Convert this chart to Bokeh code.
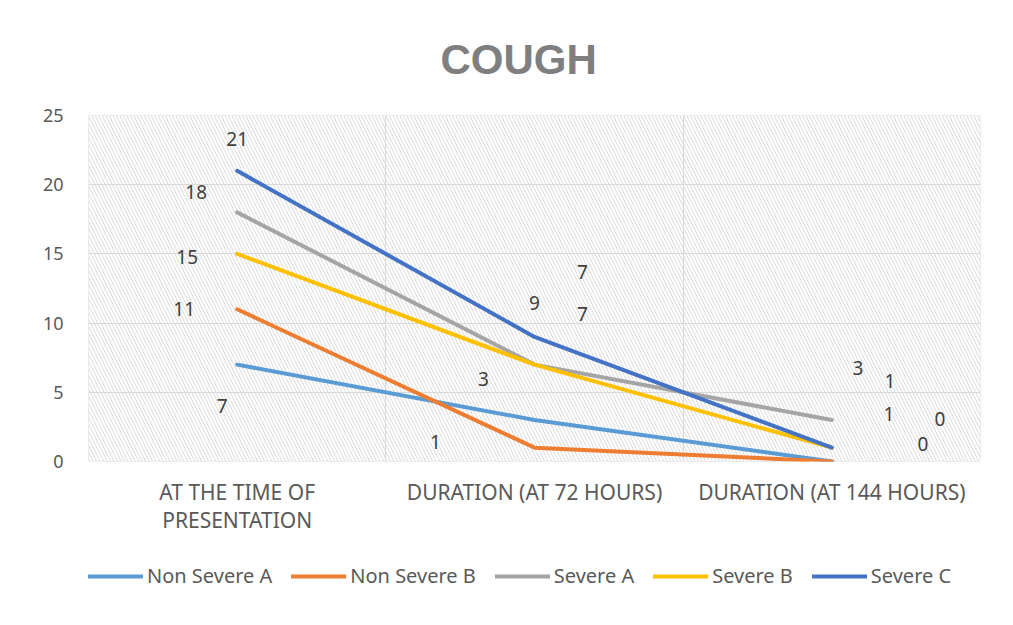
from bokeh.plotting import figure
from bokeh.models import Range1d, FixedTicker, Legend, LegendItem, LinearAxis
from bokeh.layouts import column
from bokeh.core.properties import value
from bokeh.embed import file_html
from bokeh.resources import INLINE

# ---- data ----
categories = ["AT THE TIME OF\nPRESENTATION", "DURATION (AT 72 HOURS)", "DURATION (AT 144 HOURS)"]
series_names = ["Non Severe A", "Non Severe B", "Severe A", "Severe B", "Severe C"]
non_severe_a = [7, 3, 0]
non_severe_b = [11, 1, 0]
severe_a = [18, 7, 3]
severe_b = [15, 7, 1]
severe_c = [21, 9, 1]
y_ticks = [0, 5, 10, 15, 20, 25]

# ---- styles ----
colors = ["#5B9BD5", "#ED7D31", "#A5A5A5", "#FFC000", "#4472C4"]
# data label pixel offsets (dx, dy) per series per point (screen px, y down)
label_offsets = [
    [(-15, 41), (-51, -41), (91, -18)],
    [(-53, 0), (-99, -6), (108, -43)],
    [(-41, -20), (48, -51), (26, -52)],
    [(-50, 3), (48, -93), (58, -67)],
    [(0, -32), (0, -34), (57, -34)],
]

all_series = [non_severe_a, non_severe_b, severe_a, severe_b, severe_c]
xs = [i + 0.5 for i in range(len(categories))]
line1 = [c.split("\n")[0] for c in categories]
line2 = [c.split("\n")[1] if "\n" in c else "" for c in categories]

p = figure(frame_width=892, frame_height=346, output_backend="svg", toolbar_location=None,
           x_range=Range1d(0, len(categories)), y_range=Range1d(y_ticks[0], y_ticks[-1]),
           x_axis_location=None,
           min_border_left=88, min_border_right=25, min_border_top=115, min_border_bottom=80,
           background_fill_color="white", border_fill_color="white", outline_line_color=None)

p.title.text = "COUGH"
p.title.text_font = "Liberation Sans"
p.title.text_font_size = "42px"
p.title.text_font_style = "bold"
p.title.text_color = "#7f7f7f"
p.title.align = "left"
p.title.offset = 352
p.title.standoff = 65

# hatched plot area
p.quad(left=[0], right=[len(categories)], bottom=[y_ticks[0]], top=[y_ticks[-1]],
       fill_color=None, line_color="#d9d9d9", line_width=1,
       hatch_pattern="\\", hatch_color="#d9d9d9", hatch_scale=7, hatch_weight=1)

renderers = []
for name, vals, c in zip(series_names, all_series, colors):
    r = p.line(xs, vals, line_color=c, line_width=4, line_cap="round", line_join="round")
    renderers.append(r)

for vals, offs in zip(all_series, label_offsets):
    for x, v, (dx, dy) in zip(xs, vals, offs):
        p.text([x], [v], text=[str(v)], x_offset=dx, y_offset=dy,
               text_align="center", text_baseline="middle",
               text_font_size="19px", text_color="#404040", text_font=value("Noto Sans"))

ax1 = LinearAxis(ticker=FixedTicker(ticks=xs),
                 major_label_overrides={x: t for x, t in zip(xs, line1)})
ax2 = LinearAxis(ticker=FixedTicker(ticks=xs),
                 major_label_overrides={x: (t if t else " ") for x, t in zip(xs, line2)})
p.add_layout(ax1, "below")
p.add_layout(ax2, "below")
p.yaxis.ticker = FixedTicker(ticks=y_ticks)
for ax in (ax1, ax2, p.yaxis[0]):
    ax.axis_line_color = None
    ax.major_tick_line_color = None
    ax.minor_tick_line_color = None
    ax.major_tick_in = 0
    ax.major_tick_out = 0
    ax.major_label_text_font = "Noto Sans"
    ax.major_label_text_font_size = "21px"
    ax.major_label_text_color = "#595959"
p.yaxis.major_label_text_font_size = "18px"
p.yaxis.major_label_standoff = 25
ax1.major_label_standoff = 16
ax2.major_label_standoff = -3

p.xgrid.ticker = FixedTicker(ticks=list(range(len(categories) + 1)))
p.xgrid.grid_line_color = "#d9d9d9"
p.ygrid.grid_line_color = "#d9d9d9"

# legend in its own strip below the chart
lg = figure(width=1005, height=76, output_backend="svg", toolbar_location=None,
            x_range=Range1d(0, len(categories)), y_range=Range1d(y_ticks[0], y_ticks[-1]),
            x_axis_location=None, y_axis_location=None,
            min_border_left=0, min_border_right=0, min_border_top=0, min_border_bottom=0,
            background_fill_color="white", border_fill_color="white", outline_line_color=None)
lg.grid.visible = False
lg_renderers = []
for vals, c in zip(all_series, colors):
    lg_renderers.append(lg.line(xs, vals, line_color=c, line_width=4, line_cap="round", visible=False))

legend = Legend(items=[LegendItem(label=n, renderers=[r]) for n, r in zip(series_names, lg_renderers)],
                orientation="horizontal", location=(0, 28),
                label_text_font="Noto Sans", label_text_font_size="20px", label_text_color="#595959",
                glyph_width=55, glyph_height=20, label_height=20, label_standoff=4, spacing=19,
                border_line_color=None, background_fill_alpha=0, padding=0, margin=0)
lg.add_layout(legend, "center")

layout = column(p, lg, spacing=0)
open("out.html", "w").write(file_html(layout, INLINE))
